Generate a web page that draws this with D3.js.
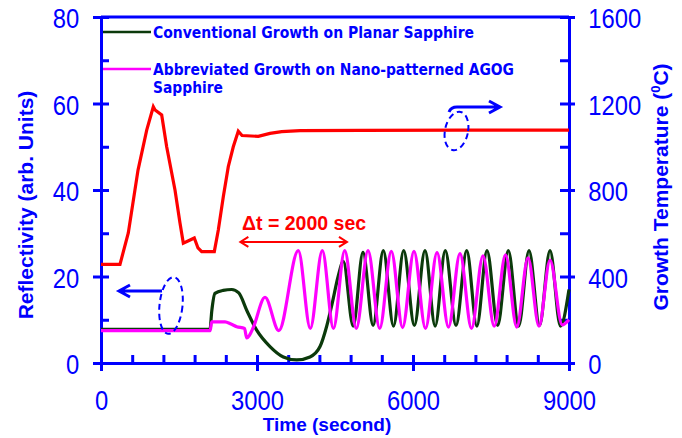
<!DOCTYPE html>
<html>
<head>
<meta charset="utf-8">
<script src="https://cdnjs.cloudflare.com/ajax/libs/d3/7.8.5/d3.min.js"></script>
<style>
html, body { margin: 0; padding: 0; background: #fff; }
svg { display: block; font-family: "Liberation Sans", Arial, sans-serif; }
</style>
</head>
<body>
<div id="graph"></div>
<script>
// temperature (right axis, deg C)
const tempTime = [0, 365, 525, 712, 879, 1006, 1040, 1167, 1263, 1423, 1519, 1583, 1673, 1794, 1865, 1936, 2179,
    2256, 2352, 2448, 2544, 2640, 2712, 3025, 3250, 3475, 3827, 5000, 7000, 9000];
const tempValue = [456, 456, 601, 892, 1077, 1185, 1170, 1147, 1000, 800, 647, 554, 564, 578, 532, 515, 515,
    615, 769, 908, 1000, 1072, 1052, 1048, 1062, 1070, 1075, 1076, 1077, 1077];

// conventional growth (left axis)
const convTime = [0, 2096, 2130, 2192, 2350, 2513, 2650, 2802, 2994, 3250, 3506, 3763, 4019, 4212, 4340, 4450, 4560, 4660,
    4850, 5038, 5233, 5429, 5625, 5821, 6026, 6231, 6426, 6621, 6827, 7033, 7228, 7423, 7628, 7833, 8032, 8231, 8433, 8635, 8835, 9000];
const convValue = [7.8, 7.8, 12, 16.1, 16.8, 17.0, 16.2, 12.2, 7.6, 3.8, 1.4, 0.7, 1.4, 3.8, 8.5, 14, 20, 23.5,
    8.5, 25.6, 8.7, 26, 8.5, 26, 8.7, 26, 8.5, 26, 8.7, 26, 8.5, 26, 8.7, 26, 8.5, 26, 8.7, 26, 8.5, 17];

// abbreviated growth (left axis)
const abbrTime = [0, 2100, 2128, 2385, 2500, 2610, 2760, 2802, 2860, 2929, 3154, 3420, 3794, 4025, 4256, 4470, 4687,
    4910, 5135, 5360, 5583, 5800, 6019, 6240, 6462, 6683, 6904, 7125, 7346, 7562, 7779, 7995, 8212, 8423, 8635, 8870, 9000];
const abbrValue = [7.5, 7.5, 9.5, 9.5, 9.0, 8.4, 8.0, 5.8, 6.5, 8.2, 15.2, 7.5, 26, 8.0, 26, 8.0, 26,
    8.0, 26, 8.0, 25.8, 8.2, 25.8, 8.0, 25.5, 8.3, 25.3, 8.0, 24.8, 8.5, 25, 8.3, 24.3, 8.5, 23.8, 8.8, 10];

const xTicks = [0, 3000, 6000, 9000];
const yTicks = [0, 20, 40, 60, 80];
const tTicks = [0, 400, 800, 1200, 1600];

const BLUE = "#0000ff", RED = "#ff0000", GREEN = "#0b3a0b", MAGENTA = "#ff00ff";

const svg = d3.select("#graph").append("svg")
    .attr("width", 682)
    .attr("height", 438);

const x = d3.scaleLinear().domain([0, 9000]).range([101, 569]);
const yL = d3.scaleLinear().domain([0, 80]).range([363, 17]);
const yR = d3.scaleLinear().domain([0, 1600]).range([363, 17]);

function styleAxis(g) {
    g.select(".domain").attr("stroke", BLUE).attr("stroke-width", 3);
    g.selectAll(".tick line").attr("stroke", BLUE).attr("stroke-width", 3);
    g.selectAll(".tick text").attr("fill", BLUE).attr("font-size", 28)
        .attr("font-family", "Liberation Sans, Arial, sans-serif");
}

// top frame
svg.append("line")
    .attr("x1", x(0)).attr("x2", x(9000))
    .attr("y1", yL(80)).attr("y2", yL(80))
    .attr("stroke", BLUE).attr("stroke-width", 3);

// bottom axis, inner minor ticks + outer major ticks
svg.append("g").attr("transform", "translate(0," + yL(0) + ")")
    .call(d3.axisBottom(x).tickValues(d3.range(0, 9001, 600)).tickSize(-8).tickSizeOuter(0).tickFormat(""))
    .call(styleAxis);
svg.append("g").attr("transform", "translate(0," + yL(0) + ")")
    .call(d3.axisBottom(x).tickValues(xTicks).tickSize(8).tickSizeOuter(0).tickPadding(19).tickFormat(d3.format("d")))
    .call(styleAxis)
    .call(g => g.selectAll(".tick text").attr("transform", "scale(0.85,1)"));

// left axis
svg.append("g").attr("transform", "translate(" + x(0) + ",0)")
    .call(d3.axisLeft(yL).tickValues(d3.range(0, 81, 10)).tickSize(-8).tickSizeOuter(0).tickFormat(""))
    .call(styleAxis);
svg.append("g").attr("transform", "translate(" + x(0) + ",0)")
    .call(d3.axisLeft(yL).tickValues(yTicks).tickSize(8).tickSizeOuter(0).tickFormat(d3.format("d")))
    .call(styleAxis)
    .call(g => g.selectAll(".tick text").attr("x", -25.5).attr("dy", "0.38em").attr("transform", "scale(0.85,1)"));

// right axis
svg.append("g").attr("transform", "translate(" + x(9000) + ",0)")
    .call(d3.axisRight(yR).tickValues(d3.range(0, 1601, 200)).tickSize(-9).tickSizeOuter(0).tickFormat(""))
    .call(styleAxis);
svg.append("g").attr("transform", "translate(" + x(9000) + ",0)")
    .call(d3.axisRight(yR).tickValues(tTicks).tickSize(6).tickSizeOuter(0).tickFormat(d3.format("d")))
    .call(styleAxis)
    .call(g => g.selectAll(".tick text").attr("x", 22.7).attr("dy", "0.38em").attr("transform", "scale(0.85,1)"));

// axis titles
svg.append("text")
    .attr("transform", "translate(33,205) rotate(-90)")
    .attr("text-anchor", "middle").attr("font-weight", "bold").attr("font-size", 21)
    .attr("fill", BLUE).text("Reflectivity (arb. Units)");

const rt = svg.append("text")
    .attr("transform", "translate(668,187) rotate(-90)")
    .attr("text-anchor", "middle").attr("font-weight", "bold").attr("font-size", 21)
    .attr("fill", BLUE);
rt.append("tspan").text("Growth Temperature (");
rt.append("tspan").attr("font-size", 13).attr("dy", -8).text("0");
rt.append("tspan").attr("dy", 8).text("C)");

svg.append("text")
    .attr("x", 327).attr("y", 431)
    .attr("text-anchor", "middle").attr("font-weight", "bold").attr("font-size", 19)
    .attr("fill", BLUE).text("Time (second)");

// data lines
const line = (ts, vs, yScale, curve) => d3.line()
    .x((d, i) => x(ts[i]))
    .y(d => yScale(d))
    .curve(curve)(vs);

svg.append("path")
    .attr("d", line(tempTime, tempValue, yR, d3.curveLinear))
    .attr("fill", "none").attr("stroke", RED).attr("stroke-width", 3.2);

svg.append("path")
    .attr("d", line(convTime, convValue, yL, d3.curveMonotoneX))
    .attr("fill", "none").attr("stroke", GREEN).attr("stroke-width", 3.2);

svg.append("path")
    .attr("d", line(abbrTime, abbrValue, yL, d3.curveMonotoneX))
    .attr("fill", "none").attr("stroke", MAGENTA).attr("stroke-width", 3.2);

// legend
const legend = [
    {color: GREEN, y: 32, lines: [["Conventional Growth on Planar Sapphire", 321]]},
    {color: MAGENTA, y: 69, lines: [["Abbreviated Growth on Nano-patterned AGOG", 361], ["Sapphire", 70]]}
];
legend.forEach(function(l) {
    svg.append("line")
        .attr("x1", 103).attr("x2", 151).attr("y1", l.y).attr("y2", l.y)
        .attr("stroke", l.color).attr("stroke-width", 2.5);
    l.lines.forEach(function(s, i) {
        svg.append("text")
            .attr("x", 153).attr("y", l.y + 5.5 + i * 18.5)
            .attr("font-family", "'DejaVu Sans Condensed', 'DejaVu Sans', sans-serif")
            .attr("font-weight", "bold").attr("font-size", 15.5)
            .attr("textLength", s[1]).attr("lengthAdjust", "spacingAndGlyphs")
            .attr("fill", BLUE).text(s[0]);
    });
});

// delta t annotation
svg.append("text")
    .attr("x", 242).attr("y", 230)
    .attr("font-weight", "bold").attr("font-size", 19.5)
    .attr("fill", RED).text("\u0394t = 2000 sec");

function arrowHead(x0, y0, dir, len, spread) {
    return "M" + (x0 + dir * len) + "," + (y0 - spread) + "L" + x0 + "," + y0 + "L" + (x0 + dir * len) + "," + (y0 + spread);
}

const ax1 = x(2680), ax2 = x(4730), ay = yL(28);
svg.append("path")
    .attr("d", "M" + ax1 + "," + ay + "H" + ax2 + arrowHead(ax1, ay, 1, 8, 5) + arrowHead(ax2, ay, -1, 8, 5))
    .attr("fill", "none").attr("stroke", RED).attr("stroke-width", 2);

// reflectivity pointer (left)
svg.append("path")
    .attr("d", "M162,291H119" + arrowHead(119, 291, 1, 11, 6))
    .attr("fill", "none").attr("stroke", BLUE).attr("stroke-width", 3);
svg.append("ellipse")
    .attr("transform", "translate(171,305.5) rotate(6)")
    .attr("rx", 11.5).attr("ry", 28.5)
    .attr("fill", "none").attr("stroke", BLUE).attr("stroke-width", 2).attr("stroke-dasharray", "6,4");

// temperature pointer (right)
svg.append("path")
    .attr("d", "M449,112Q451,107 457,107H500" + arrowHead(500, 107, -1, 11, 6))
    .attr("fill", "none").attr("stroke", BLUE).attr("stroke-width", 3);
svg.append("ellipse")
    .attr("transform", "translate(456.5,131) rotate(12)")
    .attr("rx", 11.5).attr("ry", 19.5)
    .attr("fill", "none").attr("stroke", BLUE).attr("stroke-width", 2).attr("stroke-dasharray", "6,4");
</script>
</body>
</html>
